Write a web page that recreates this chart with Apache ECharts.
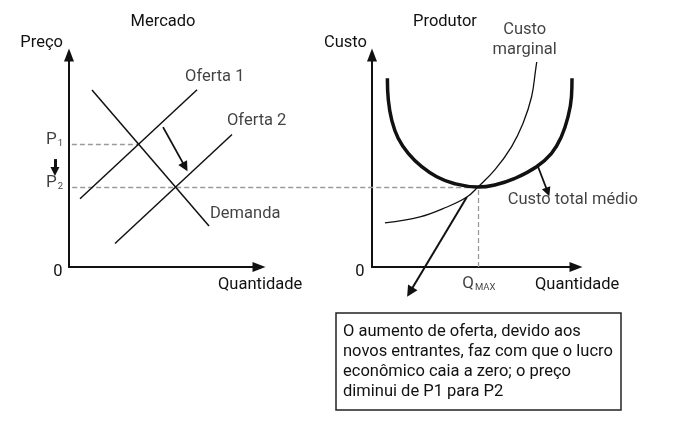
<!DOCTYPE html>
<html><head><meta charset="utf-8">
<script src="https://cdn.jsdelivr.net/npm/echarts@6/dist/echarts.min.js"></script>
<style>html,body{margin:0;padding:0;background:#fff}#c{width:692px;height:421px}</style>
</head><body><div id="c"></div>
<script>
// ---- Mercado (left panel) ----
const oferta1 = [[0.58, 3.22], [6.74, 8.36]];
const demanda = [[1.21, 8.35], [7.37, 1.93]];
const oferta2 = [[2.42, 1.11], [8.58, 6.25]];
const P1 = 5.8, Q1 = 3.67;
const P2 = 3.77;
const shiftArrow = [[4.95, 6.60], [6.11, 4.72]];
const priceArrow = [[-0.74, 5.09], [-0.74, 4.50]];
// ---- Produtor (right panel) ----
const custoTotalMedio = [[0.81, 8.90], [0.86, 7.88], [1.04, 6.93], [1.38, 6.07], [1.91, 5.36], [2.62, 4.73], [3.41, 4.26], [4.28, 3.95], [5.58, 3.77], [6.47, 3.87], [7.53, 4.18], [8.67, 4.73], [9.46, 5.36], [9.98, 6.15], [10.33, 7.09], [10.51, 8.03], [10.54, 8.90]];
const custoMarginal = [[0.68, 2.08], [2.53, 2.36], [3.95, 2.83], [5.00, 3.30], [5.58, 3.77], [6.47, 4.58], [7.35, 5.67], [7.96, 6.78], [8.41, 8.03], [8.62, 9.29], [8.68, 9.67]];
const QMAX = 5.58;
const p2LineStartRight = -15.8;
const boxArrow = [[5.0, 3.30], [2.0, -1.18]];
const ctmArrow = [[8.74, 4.75], [9.26, 3.54]];
// ---- texts ----
const titles = ['Mercado', 'Produtor'];
const yNames = ['Preço', 'Custo'];
const xName = 'Quantidade';
const boxText = ['O aumento de oferta, devido aos', 'novos entrantes, faz com que o lucro', 'econômico caia a zero; o preço', 'diminui de P1 para P2'];

const FONT = 'Roboto, "Noto Sans", sans-serif';
const FS = 16.5;
const INK = '#111';
const DASH = '#9a9a9a';

function axisStyle() {
  return {
    show: true,
    symbol: ['none', 'triangle'],
    symbolSize: [10, 13],
    lineStyle: { color: INK, width: 2 }
  };
}
function xAx(g, max) {
  return { type: 'value', gridIndex: g, min: 0, max: max, axisLine: axisStyle(), axisTick: { show: false }, axisLabel: { show: false }, splitLine: { show: false } };
}
function yAx(g) {
  return { type: 'value', gridIndex: g, min: 0, max: 10, axisLine: axisStyle(), axisTick: { show: false }, axisLabel: { show: false }, splitLine: { show: false } };
}
function seg(g, data, opts) {
  return Object.assign({ type: 'line', xAxisIndex: g, yAxisIndex: g, data: data, symbol: 'none', silent: true, animation: false,
    lineStyle: { color: INK, width: 1.5 } }, opts || {});
}
function dashed(g, from, to) {
  return { type: 'lines', coordinateSystem: 'cartesian2d', xAxisIndex: g, yAxisIndex: g, clip: false, silent: true, animation: false,
    symbol: 'none', lineStyle: { color: DASH, width: 1.3, type: [5, 3], opacity: 1 },
    data: [{ coords: [from, to] }] };
}
function arrow(g, from, to, width, size) {
  return { type: 'lines', coordinateSystem: 'cartesian2d', xAxisIndex: g, yAxisIndex: g, clip: false, silent: true, animation: false,
    symbol: ['none', 'triangle'], symbolSize: size,
    lineStyle: { color: INK, width: width, opacity: 1 },
    data: [{ coords: [from, to] }] };
}
const lblBase = { show: true, color: INK, fontFamily: FONT, fontSize: FS };
function labelSeries(g, items) {
  return { type: 'scatter', xAxisIndex: g, yAxisIndex: g, symbolSize: 0, silent: true, animation: false, clip: false,
    data: items.map(it => ({ value: it.at, label: Object.assign({}, lblBase, it.label) })) };
}
const subRich = {
  p: { fontSize: 17, fontFamily: FONT, color: INK, lineHeight: 18 },
  s: { fontSize: 9.5, fontFamily: FONT, color: INK, lineHeight: 18, verticalAlign: 'bottom', padding: [8, 0, 0, 1] }
};

const option = {
  backgroundColor: '#fff',
  animation: false,
  grid: [
    { left: 69, top: 55, width: 190, height: 212, outerBoundsMode: 'none' },
    { left: 372, top: 55, width: 204, height: 212, outerBoundsMode: 'none' }
  ],
  xAxis: [xAx(0, 10), xAx(1, 10.75)],
  yAxis: [yAx(0), yAx(1)],
  series: [
    seg(0, oferta1),
    seg(0, demanda),
    seg(0, oferta2),
    dashed(0, [0.15, P1], [Q1, P1]),
    arrow(0, shiftArrow[0], shiftArrow[1], 1.8, 10),
    arrow(0, priceArrow[0], priceArrow[1], 3, 9),
    labelSeries(0, [
      { at: oferta1[1], label: { position: [-12, -13], align: 'left', verticalAlign: 'middle', formatter: 'Oferta 1' } },
      { at: oferta2[1], label: { position: [-5, -14], align: 'left', verticalAlign: 'middle', formatter: 'Oferta 2' } },
      { at: demanda[1], label: { position: [1, -12], align: 'left', verticalAlign: 'middle', formatter: 'Demanda' } },
      { at: [0, P1], label: { position: [-6, -4], align: 'right', verticalAlign: 'middle', formatter: '{p|P}{s|1}', rich: subRich } },
      { at: [0, P2], label: { position: [-6, -4], align: 'right', verticalAlign: 'middle', formatter: '{p|P}{s|2}', rich: subRich } }
    ]),
    seg(1, custoTotalMedio, { smooth: 0.45, lineStyle: { color: INK, width: 3.5 } }),
    seg(1, custoMarginal, { smooth: 0.4, lineStyle: { color: INK, width: 1.3 } }),
    dashed(1, [p2LineStartRight, P2], [QMAX, P2]),
    dashed(1, [QMAX, 0], [QMAX, P2]),
    arrow(1, boxArrow[0], boxArrow[1], 2, 11),
    arrow(1, ctmArrow[0], ctmArrow[1], 1.8, 9),
    labelSeries(1, [
      { at: custoMarginal[custoMarginal.length - 1], label: { position: [-12, -22], align: 'center', verticalAlign: 'middle', lineHeight: 20, formatter: 'Custo\nmarginal' } },
      { at: ctmArrow[1], label: { position: [-40, 8], align: 'left', verticalAlign: 'middle', formatter: 'Custo total médio' } },
      { at: [QMAX, 0], label: { position: [1, 17], align: 'center', verticalAlign: 'middle', formatter: '{p|Q}{s|MAX}', rich: subRich } }
    ])
  ],
  graphic: [
    { type: 'text', x: 163, y: 22, style: { text: titles[0], font: FS + 'px ' + FONT, fill: INK, align: 'center', verticalAlign: 'middle' } },
    { type: 'text', x: 445, y: 22, style: { text: titles[1], font: FS + 'px ' + FONT, fill: INK, align: 'center', verticalAlign: 'middle' } },
    { type: 'text', x: 63, y: 43, style: { text: yNames[0], font: FS + 'px ' + FONT, fill: INK, align: 'right', verticalAlign: 'middle' } },
    { type: 'text', x: 367, y: 43, style: { text: yNames[1], font: FS + 'px ' + FONT, fill: INK, align: 'right', verticalAlign: 'middle' } },
    { type: 'text', x: 218, y: 285, style: { text: xName, font: FS + 'px ' + FONT, fill: INK, align: 'left', verticalAlign: 'middle' } },
    { type: 'text', x: 535, y: 285, style: { text: xName, font: FS + 'px ' + FONT, fill: INK, align: 'left', verticalAlign: 'middle' } },
    { type: 'text', x: 58, y: 272, style: { text: '0', font: FS + 'px ' + FONT, fill: INK, align: 'center', verticalAlign: 'middle' } },
    { type: 'text', x: 360, y: 272, style: { text: '0', font: FS + 'px ' + FONT, fill: INK, align: 'center', verticalAlign: 'middle' } },
    { type: 'rect', shape: { x: 336, y: 313, width: 285, height: 97 }, style: { fill: '#fff', stroke: '#222', lineWidth: 1.5 } },
    { type: 'text', x: 343, y: 322, style: { text: boxText.join('\n'), font: FS + 'px ' + FONT, fill: INK, align: 'left', verticalAlign: 'top', lineHeight: 20 } }
  ]
};
const chart = echarts.init(document.getElementById('c'), null, { renderer: 'canvas' });
chart.setOption(option);
</script>
</body></html>
